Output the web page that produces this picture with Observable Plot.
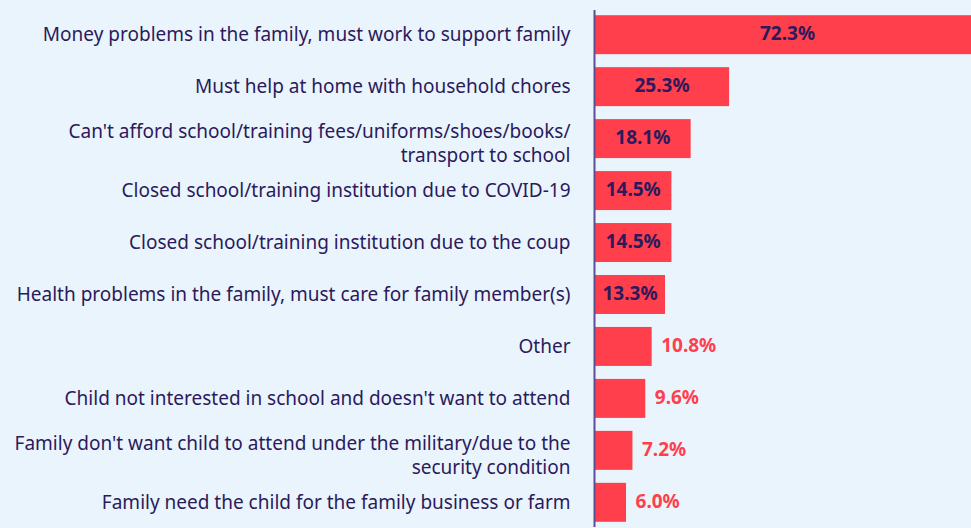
<!DOCTYPE html>
<html>
<head>
<meta charset="utf-8">
<script src="https://cdn.jsdelivr.net/npm/d3@7"></script>
<script src="https://cdn.jsdelivr.net/npm/@observablehq/plot@0.6"></script>
<style>
  html, body { margin: 0; padding: 0; background: #eaf4fd; overflow: hidden; }
  #chart svg { display: block; }
</style>
</head>
<body>
<div id="chart"></div>
<script>
const categories = [
  "Money problems in the family, must work to support family",
  "Must help at home with household chores",
  "Can't afford school/training fees/uniforms/shoes/books/\ntransport to school",
  "Closed school/training institution due to COVID-19",
  "Closed school/training institution due to the coup",
  "Health problems in the family, must care for family member(s)",
  "Other",
  "Child not interested in school and doesn't want to attend",
  "Family don't want child to attend under the military/due to the\nsecurity condition",
  "Family need the child for the family business or farm"
];
const values = [72.3, 25.3, 18.1, 14.5, 14.5, 13.3, 10.8, 9.6, 7.2, 6.0];
const valueLabels = ["72.3%", "25.3%", "18.1%", "14.5%", "14.5%", "13.3%", "10.8%", "9.6%", "7.2%", "6.0%"];

const data = categories.map((c, i) => ({category: c, value: values[i], label: valueLabels[i]}));
const inside = data.filter(d => d.value >= 13);
const outside = data.filter(d => d.value < 13);
const singleLine = data.filter(d => !d.category.includes("\n"));
const multiLine = data.filter(d => d.category.includes("\n"));

const navy = "#2b1a5c";
const red = "#ff3f4c";

const chart = Plot.plot({
  width: 971,
  height: 528,
  marginLeft: 594,
  marginRight: 0,
  marginTop: 10,
  marginBottom: 1,
  style: {background: "#eaf4fd", fontFamily: "'Noto Sans', sans-serif", color: navy, overflow: "hidden"},
  x: {domain: [0, 70.6], axis: null},
  y: {domain: categories, paddingInner: 0.25, paddingOuter: 0.1, round: false, axis: null},
  marks: [
    Plot.barX(data, {x: "value", y: "category", fill: red}),
    Plot.ruleX([0], {stroke: "#5b4f91", strokeWidth: 2}),
    Plot.text(inside, {x: d => d.value / 2, y: "category", text: "label", fill: navy, fontWeight: 700, fontSize: 19, dy: -1, style: "letter-spacing:1.3px"}),
    Plot.text(outside, {x: "value", y: "category", text: "label", fill: red, fontWeight: 700, fontSize: 19, dx: 9, dy: -1, textAnchor: "start", style: "letter-spacing:1.3px"}),
    Plot.text(singleLine, {x: 0, y: "category", text: "category", textAnchor: "end", dx: -24, dy: 0, fontSize: 19, fill: navy}),
    Plot.text(multiLine, {x: 0, y: "category", text: "category", textAnchor: "end", dx: -24, dy: 3, fontSize: 19, lineHeight: 1.27, fill: navy})
  ]
});
document.getElementById("chart").appendChild(chart);
</script>
</body>
</html>
